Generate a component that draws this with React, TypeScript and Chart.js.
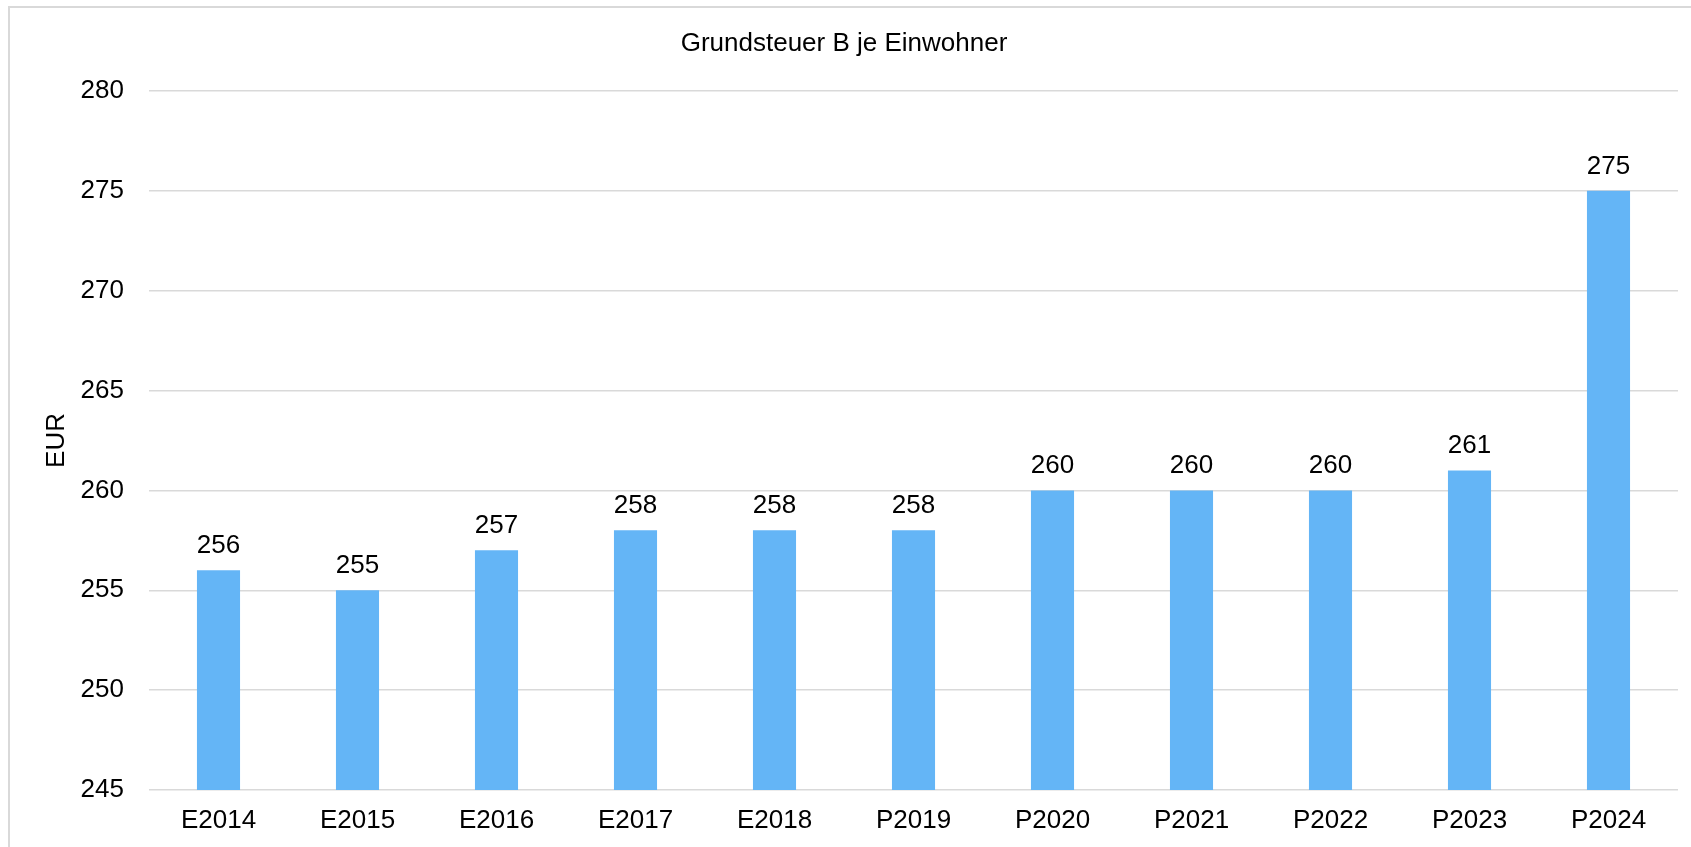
import React, { useEffect, useRef } from "react";
import { Chart, registerables } from "chart.js";

Chart.register(...registerables);

// Grundsteuer B je Einwohner (EUR); E = Ergebnis, P = Plan
const categories: string[] = [
  "E2014", "E2015", "E2016", "E2017", "E2018",
  "P2019", "P2020", "P2021", "P2022", "P2023", "P2024",
];
const values: number[] = [256, 255, 257, 258, 258, 258, 260, 260, 260, 261, 275];

const yMin = 245;
const yMax = 280;
const yStep = 5;

const chartTitle = "Grundsteuer B je Einwohner";
const yAxisTitle = "EUR";

const FONT = "'Liberation Sans', Arial, sans-serif";
const BAR_COLOR = "#64B5F6";
const GRID_COLOR = "#d9d9d9";

// Writes each bar's value just above its top edge
const valueLabels = {
  id: "valueLabels",
  afterDatasetsDraw(chart: any) {
    const { ctx } = chart;
    const meta = chart.getDatasetMeta(0);
    const data = chart.data.datasets[0].data as number[];
    ctx.save();
    ctx.font = `26px ${FONT}`;
    ctx.fillStyle = "#000";
    ctx.textAlign = "center";
    ctx.textBaseline = "alphabetic";
    meta.data.forEach((bar: any, i: number) => {
      ctx.fillText(String(data[i]), bar.x, bar.y - 17);
    });
    ctx.restore();
  },
};

export default function App() {
  const canvasRef = useRef<HTMLCanvasElement | null>(null);

  useEffect(() => {
    if (!canvasRef.current) return;
    const chart = new Chart(canvasRef.current, {
      type: "bar",
      data: {
        labels: categories,
        datasets: [
          {
            data: values,
            backgroundColor: BAR_COLOR,
            borderWidth: 0,
            barPercentage: 0.31,
            categoryPercentage: 1,
          },
        ],
      },
      options: {
        animation: false,
        responsive: false,
        maintainAspectRatio: false,
        devicePixelRatio: 1,
        layout: { padding: { left: 0, right: 26, top: 0, bottom: 0 } },
        plugins: {
          legend: { display: false },
          tooltip: { enabled: false },
          title: {
            display: true,
            text: chartTitle,
            color: "#000",
            font: { family: FONT, size: 26, weight: "normal" },
            padding: { top: 20.4, bottom: 31.4 },
          },
        },
        scales: {
          x: {
            grid: { display: false, drawTicks: false },
            border: { display: false },
            ticks: {
              color: "#000",
              font: { family: FONT, size: 26 },
              padding: 15,
              maxRotation: 0,
              autoSkip: false,
            },
            afterFit: (s: any) => {
              s.height = 57;
            },
          },
          y: {
            min: yMin,
            max: yMax,
            grid: { color: GRID_COLOR, lineWidth: 1.5, drawTicks: false },
            border: { display: false },
            ticks: {
              stepSize: yStep,
              color: "#000",
              font: { family: FONT, size: 26 },
              padding: 25,
            },
            title: {
              display: true,
              text: yAxisTitle,
              color: "#000",
              font: { family: FONT, size: 26 },
              padding: { top: 31.4, bottom: 0 },
            },
            afterFit: (s: any) => {
              s.width = 139;
            },
          },
        },
      },
      plugins: [valueLabels],
    });
    return () => chart.destroy();
  }, []);

  return (
    <div
      style={{
        position: "absolute",
        left: 0,
        top: 0,
        width: 1691,
        height: 847,
        overflow: "hidden",
        background: "#fff",
      }}
    >
      <div
        style={{
          position: "absolute",
          left: 8,
          top: 6,
          width: 1694,
          height: 845,
          border: `2px solid ${GRID_COLOR}`,
        }}
      >
        <canvas
          ref={canvasRef}
          width={1694}
          height={839}
          style={{ display: "block", width: 1694, height: 839 }}
        />
      </div>
    </div>
  );
}
